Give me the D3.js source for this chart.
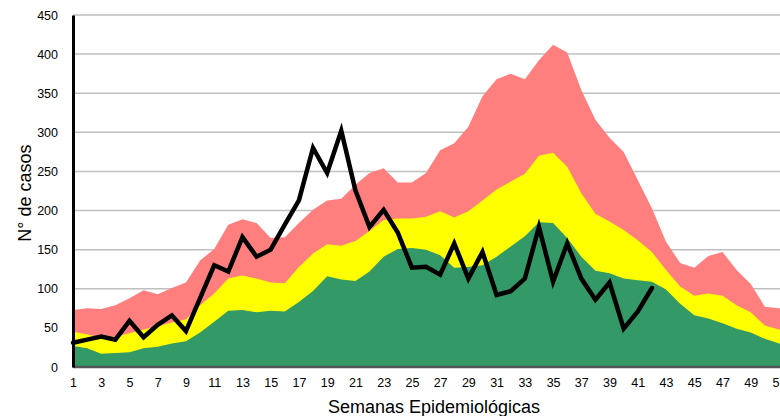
<!DOCTYPE html>
<html>
<head>
<meta charset="utf-8">
<script src="https://cdn.jsdelivr.net/npm/d3@7"></script>
<style>
	html, body { margin: 0; padding: 0; background: #fff; overflow: hidden; }
	svg { display: block; font-family: "Liberation Sans", Arial, sans-serif; }
</style>
</head>
<body>
<div id="chart"></div>
<script>
// epidemiological weeks 1..52
const weeks = d3.range(1, 53);

// top of the red zone (epidemic)
const redZone = [73, 75, 74, 79, 88, 98, 93, 101, 108, 136, 151, 182, 189, 184, 165, 166, 184, 201, 213, 215,
	233, 248, 254, 236, 236, 248, 277, 286, 307, 346, 368, 375, 368, 392, 412, 402, 354, 316, 293, 275,
	239, 203, 160, 133, 127, 142, 147, 124, 106, 77, 75, 72];

// top of the yellow zone (alert)
const yellowZone = [45, 42, 37, 39, 43, 48, 52, 57, 61, 79, 94, 113, 117, 113, 108, 107, 128, 145, 157, 155,
	161, 174, 188, 190, 190, 192, 199, 191, 199, 213, 227, 237, 247, 270, 274, 256, 222, 196, 186, 175,
	162, 147, 124, 103, 91, 94, 91, 79, 70, 53, 48, 45];

// top of the green zone (security)
const greenZone = [27, 24, 17, 18, 19, 24, 26, 30, 33, 44, 58, 72, 73, 70, 72, 71, 83, 97, 116, 112,
	110, 122, 141, 151, 152, 150, 143, 127, 128, 130, 141, 154, 167, 185, 184, 165, 141, 123, 120, 113,
	111, 109, 99, 81, 66, 62, 56, 49, 44, 36, 30, 28];

// observed cases, weeks 1..42
const cases = [31, 35, 39, 35, 59, 38, 54, 66, 46, 88, 130, 122, 166, 141, 150, 182, 213, 280, 248, 302,
	226, 179, 201, 172, 127, 128, 118, 158, 113, 147, 92, 97, 113, 179, 109, 158, 113, 86, 108, 49,
	71, 101];

const yTicks = d3.range(0, 451, 50);
const xTicks = weeks.filter(w => w % 2 === 1);

const width = 780, height = 416;
const margins = {top: 15, left: 73, bottom: 49};

const svg = d3.select("#chart").append("svg")
	.attr("width", width)
	.attr("height", height);

const xScale = d3.scaleLinear()
	.domain([1, 52])
	.range([margins.left, margins.left + 51 * 14.12]);

const yScale = d3.scaleLinear()
	.domain([0, 450])
	.range([height - margins.bottom, margins.top]);

// grid lines
svg.append("g")
	.selectAll("line")
	.data(yTicks.slice(1))
	.join("line")
	.attr("x1", margins.left)
	.attr("x2", width)
	.attr("y1", d => yScale(d))
	.attr("y2", d => yScale(d))
	.attr("stroke", "#bfbfbf")
	.attr("stroke-width", 1.5);

// zones, drawn from the top one down
const zones = [
	{values: redZone, color: "#ff7f7f"},
	{values: yellowZone, color: "#ffff00"},
	{values: greenZone, color: "#339966"}
];

zones.forEach(z => {
	const area = d3.area()
		.x((d, i) => xScale(weeks[i]))
		.y0(yScale(0))
		.y1(d => yScale(d));
	svg.append("path")
		.datum(z.values)
		.attr("fill", z.color)
		.attr("d", area);
});

// x axis
const xAxis = svg.append("g")
	.attr("transform", `translate(0,${yScale(0)})`)
	.call(d3.axisBottom(xScale).tickValues(xTicks).tickSize(0).tickPadding(11).tickFormat(d3.format("d")));
xAxis.select(".domain").attr("stroke", "#555").attr("stroke-width", 2.5)
	.attr("d", `M${margins.left},0H${width}`);
xAxis.selectAll("text").attr("font-size", 12.5).attr("fill", "#000").style("font-family", "Liberation Sans, Arial, sans-serif");

// y axis
const yAxis = svg.append("g")
	.attr("transform", `translate(${margins.left},0)`)
	.call(d3.axisLeft(yScale).tickValues(yTicks).tickSize(0).tickPadding(15));
yAxis.select(".domain").attr("stroke", "#000").attr("stroke-width", 3);
yAxis.selectAll("text").attr("font-size", 12.5).attr("fill", "#000").style("font-family", "Liberation Sans, Arial, sans-serif");

// observed cases line
const line = d3.line()
	.x((d, i) => xScale(weeks[i]))
	.y(d => yScale(d));

svg.append("path")
	.datum(cases)
	.attr("fill", "none")
	.attr("stroke", "#000")
	.attr("stroke-width", 4.5)
	.attr("stroke-linejoin", "miter")
	.attr("stroke-linecap", "round")
	.attr("d", line);

// axis titles
svg.append("text")
	.attr("x", 434)
	.attr("y", 413)
	.attr("text-anchor", "middle")
	.attr("font-size", 18)
	.text("Semanas Epidemiológicas");

svg.append("text")
	.attr("transform", "translate(31,193) rotate(-90)")
	.attr("text-anchor", "middle")
	.attr("font-size", 18)
	.text("N° de casos");
</script>
</body>
</html>
